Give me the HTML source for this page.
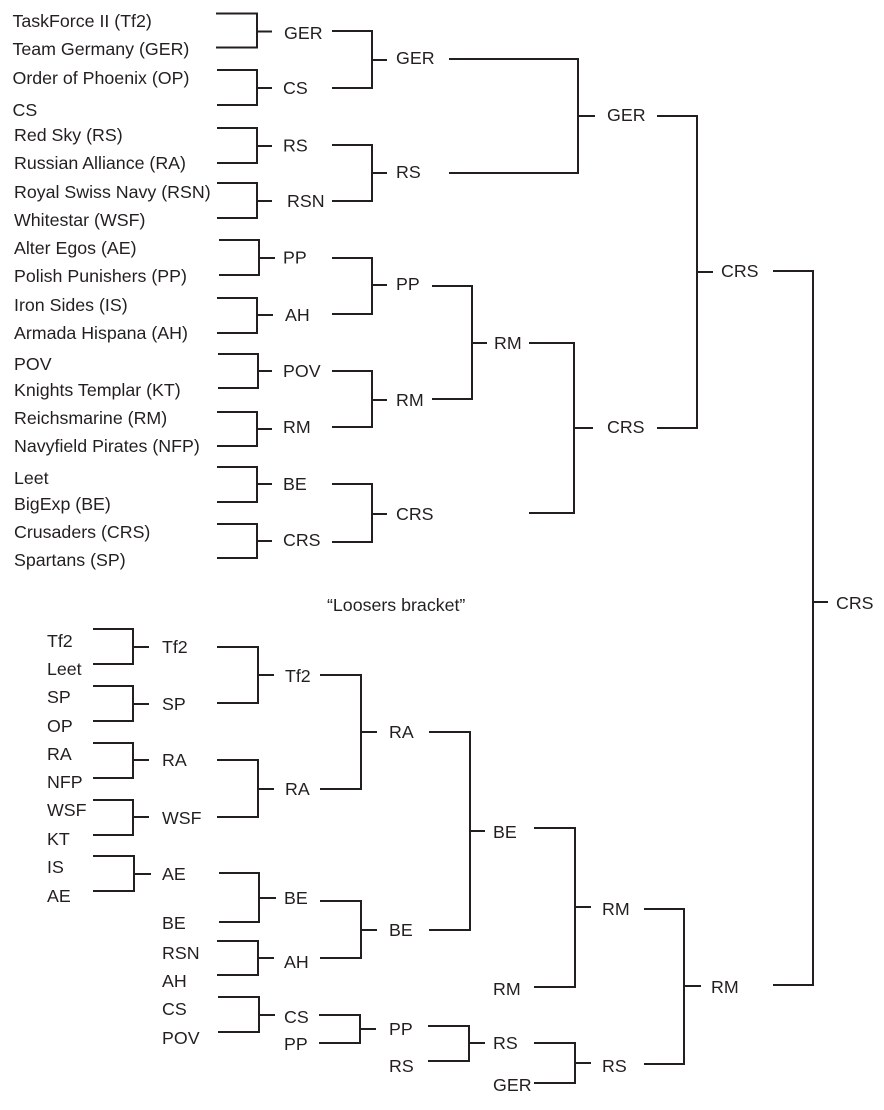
<!DOCTYPE html>
<html>
<head>
<meta charset="utf-8">
<style>
html,body{margin:0;padding:0;background:#fff;}
svg{display:block;}
text{font-family:"Liberation Sans",Arial,sans-serif;font-size:17.8px;fill:#231f20;}
path{fill:none;stroke:#231f20;stroke-width:2;}
</style>
</head>
<body>
<svg width="884" height="1110" viewBox="0 0 884 1110" xmlns="http://www.w3.org/2000/svg">
<!-- Winners round 1 -->
<path d="M216 13.5H257V47.5H216M257 31.5H272"/>
<path d="M217 70H257V105H217M257 88H272"/>
<path d="M217 128H257V163H217M257 146H272"/>
<path d="M217 183H257V218H217M257 201H272"/>
<path d="M219 240H259V275H219M259 258H275"/>
<path d="M217 298H257V333H217M257 315H273"/>
<path d="M218 354H258V388H218M258 371H272"/>
<path d="M217 412H257V446H217M257 429H272"/>
<path d="M217 467H257V502H217M257 484H272"/>
<path d="M217 524H257V558H217M257 541H272"/>
<!-- Winners round 2 -->
<path d="M332 31H372V88H332M372 60H387"/>
<path d="M332 145H372V201H332M372 173H387"/>
<path d="M332 258H372V314H332M372 285H387"/>
<path d="M332 371H372V427H332M372 400H387"/>
<path d="M332 484H372V542H332M372 514H387"/>
<!-- Round 3 -->
<path d="M449 59H578V173H449M578 116H595"/>
<path d="M432 286H472V399H432M472 343H487"/>
<path d="M529 343H574V513H529M574 428H593"/>
<path d="M657 116H697V428H657M697 272H713"/>
<path d="M773 271H813V985H773M813 602H828"/>
<!-- Losers -->
<path d="M93 629H133V664H93M133 647H149"/>
<path d="M93 686H133V721H93M133 704H149"/>
<path d="M93 743H133V778H93M133 760H149"/>
<path d="M93 800H133V835H93M133 817H149"/>
<path d="M93 856H134V891H93M134 874H151"/>
<path d="M217 647H258V703H217M258 675H274"/>
<path d="M217 760H258V817H217M258 789H274"/>
<path d="M219 873H259V922H219M259 898H276"/>
<path d="M217 941H258V975H217M258 958H274"/>
<path d="M218 997H259V1032H218M259 1015H275"/>
<path d="M320 675H361V789H320M361 732H377"/>
<path d="M320 901H361V958H320M361 930H377"/>
<path d="M319 1015H360V1043H319M360 1029H376"/>
<path d="M429 732H470V930H429M470 831H485"/>
<path d="M428 1026H469V1061H428M469 1043H485"/>
<path d="M534 828H575V987H534M575 907H591"/>
<path d="M534 1043H575V1083H534M575 1063H591"/>
<path d="M644 909H684V1064H644M684 986H701"/>

<!-- Team names -->
<text x="12.5" y="27">TaskForce II (Tf2)</text>
<text x="12.5" y="55">Team Germany (GER)</text>
<text x="12.5" y="84">Order of Phoenix (OP)</text>
<text x="12.5" y="116">CS</text>
<text x="14" y="141">Red Sky (RS)</text>
<text x="14" y="169">Russian Alliance (RA)</text>
<text x="14" y="198">Royal Swiss Navy (RSN)</text>
<text x="14" y="226">Whitestar (WSF)</text>
<text x="14" y="254">Alter Egos (AE)</text>
<text x="14" y="282">Polish Punishers (PP)</text>
<text x="14" y="311">Iron Sides (IS)</text>
<text x="14" y="339">Armada Hispana (AH)</text>
<text x="14" y="370">POV</text>
<text x="14" y="396">Knights Templar (KT)</text>
<text x="14" y="424">Reichsmarine (RM)</text>
<text x="14" y="452">Navyfield Pirates (NFP)</text>
<text x="14" y="484">Leet</text>
<text x="14" y="510">BigExp (BE)</text>
<text x="14" y="538">Crusaders (CRS)</text>
<text x="14" y="566">Spartans (SP)</text>

<!-- Winners labels round 1 -->
<text x="284" y="39">GER</text>
<text x="283" y="94">CS</text>
<text x="283" y="151.5">RS</text>
<text x="287" y="207">RSN</text>
<text x="283" y="263.5">PP</text>
<text x="285" y="321">AH</text>
<text x="283" y="377">POV</text>
<text x="283" y="433">RM</text>
<text x="283" y="490">BE</text>
<text x="283" y="546">CRS</text>
<!-- round 2 -->
<text x="396" y="64">GER</text>
<text x="396" y="178">RS</text>
<text x="396" y="290">PP</text>
<text x="396" y="406">RM</text>
<text x="396" y="520">CRS</text>
<!-- round 3 -->
<text x="607" y="121">GER</text>
<text x="494" y="349">RM</text>
<text x="607" y="433">CRS</text>
<text x="721" y="277">CRS</text>
<text x="836" y="609">CRS</text>

<!-- Losers -->
<text x="327" y="611">“Loosers bracket”</text>
<text x="47" y="647">Tf2</text>
<text x="47" y="675">Leet</text>
<text x="47" y="703">SP</text>
<text x="47" y="732">OP</text>
<text x="47" y="760">RA</text>
<text x="47" y="788">NFP</text>
<text x="47" y="816">WSF</text>
<text x="47" y="845">KT</text>
<text x="47" y="873">IS</text>
<text x="47" y="902">AE</text>

<text x="162" y="653">Tf2</text>
<text x="162" y="710">SP</text>
<text x="162" y="766">RA</text>
<text x="162" y="824">WSF</text>
<text x="162" y="880">AE</text>
<text x="162" y="929">BE</text>
<text x="162" y="959">RSN</text>
<text x="162" y="987">AH</text>
<text x="162" y="1015">CS</text>
<text x="162" y="1044">POV</text>

<text x="285" y="682">Tf2</text>
<text x="285" y="795">RA</text>
<text x="284" y="904">BE</text>
<text x="284" y="968">AH</text>
<text x="284" y="1023">CS</text>
<text x="284" y="1050">PP</text>

<text x="389" y="738">RA</text>
<text x="389" y="936">BE</text>
<text x="389" y="1035">PP</text>
<text x="389" y="1072">RS</text>

<text x="493" y="838">BE</text>
<text x="493" y="995">RM</text>
<text x="493" y="1049">RS</text>
<text x="493" y="1091">GER</text>

<text x="602" y="915">RM</text>
<text x="602" y="1072">RS</text>
<text x="711" y="993">RM</text>
</svg>
</body>
</html>
